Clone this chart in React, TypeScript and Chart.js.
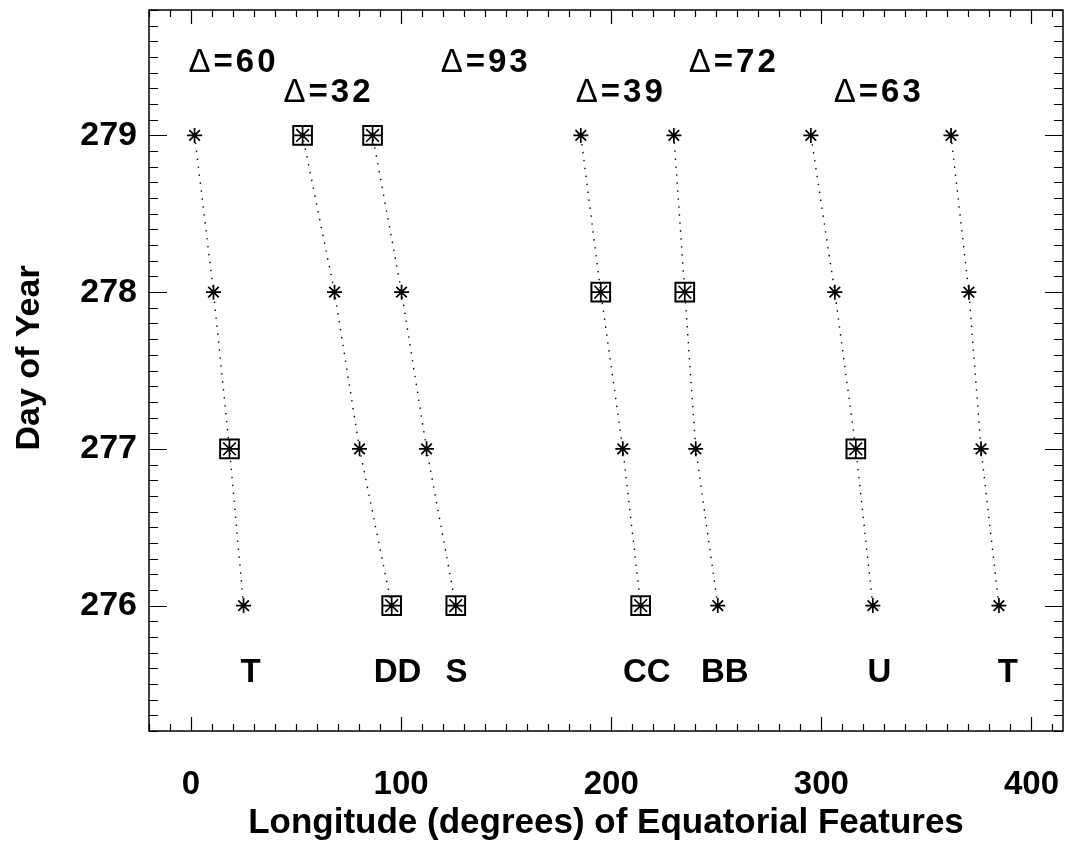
import React, { useEffect, useRef } from "react";
import { Chart, registerables } from "chart.js";

Chart.register(...registerables);

// ---- Data ----
const days = [276, 277, 278, 279];

const featureNames = ["T", "DD", "S", "CC", "BB", "U", "T"];
const lonT1 = [25, 18.3, 10.7, 1.7];
const lonDD = [95.5, 80.2, 68.3, 53.1];
const lonS = [126, 112.1, 100.2, 86.4];
const lonCC = [214, 205.5, 195, 185.5];
const lonBB = [250.7, 240.2, 235, 229.8];
const lonU = [324.5, 316.4, 306.4, 295];
const lonT2 = [384.5, 376, 370.2, 361.7];
const featureLons = [lonT1, lonDD, lonS, lonCC, lonBB, lonU, lonT2];

// days on which each feature's point is marked with a box
const boxedT1 = [277];
const boxedDD = [276, 279];
const boxedS = [276, 279];
const boxedCC = [276, 278];
const boxedBB = [278];
const boxedU = [277];
const boxedT2: number[] = [];
const featureBoxed = [boxedT1, boxedDD, boxedS, boxedCC, boxedBB, boxedU, boxedT2];

// annotations
const deltaValues = ["60", "32", "93", "39", "72", "63"];
const deltaLon = [-1.2, 44, 118.8, 183.1, 236.9, 305.9];
const deltaDay = [279.46, 279.27, 279.46, 279.27, 279.46, 279.27];
const featureLabelLon = [28.3, 98.3, 126.4, 216.9, 254, 327.6, 388.7];
const featureLabelDay = 275.57;

// axes
const xMin = -20;
const xMax = 415;
const yMin = 275.2;
const yMax = 279.8;
const xTitle = "Longitude (degrees) of Equatorial Features";
const yTitle = "Day of Year";
const yTitleDay = 277.58; // vertical centre of the y-axis title, in days

const FONT = "'Liberation Sans', Arial, Helvetica, sans-serif";

const frameTicksPlugin = {
  id: "frameTicks",
  afterDatasetsDraw(chart: any) {
    const { ctx, chartArea: a, scales } = chart;
    const x = scales.x;
    const y = scales.y;
    ctx.save();
    ctx.strokeStyle = "#000";
    ctx.lineWidth = 1.5;
    ctx.strokeRect(a.left, a.top, a.right - a.left, a.bottom - a.top);
    ctx.beginPath();
    for (let i = Math.ceil(xMin / 10); i * 10 <= xMax; i++) {
      const v = i * 10;
      const px = Math.round(x.getPixelForValue(v)) + 0.5;
      const len = v % 100 === 0 ? 14 : 7;
      ctx.moveTo(px, a.bottom);
      ctx.lineTo(px, a.bottom - len);
      ctx.moveTo(px, a.top);
      ctx.lineTo(px, a.top + len);
    }
    for (let i = Math.ceil(yMin * 10 - 1e-6); i <= Math.floor(yMax * 10 + 1e-6); i++) {
      const v = i / 10;
      const py = Math.round(y.getPixelForValue(v)) + 0.5;
      const len = i % 10 === 0 ? 18 : 9;
      ctx.moveTo(a.left, py);
      ctx.lineTo(a.left + len, py);
      ctx.moveTo(a.right, py);
      ctx.lineTo(a.right - len, py);
    }
    ctx.lineWidth = 1.2;
    ctx.stroke();

    ctx.fillStyle = "#000";
    ctx.textBaseline = "middle";
    ctx.textAlign = "left";
    for (let k = 0; k < deltaValues.length; k++) {
      const px = x.getPixelForValue(deltaLon[k]);
      const py = y.getPixelForValue(deltaDay[k]);
      ctx.font = `normal 33px ${FONT}`;
      (ctx as any).letterSpacing = "0px";
      ctx.fillText("Δ", px, py);
      const w = ctx.measureText("Δ").width;
      ctx.font = `bold 33px ${FONT}`;
      (ctx as any).letterSpacing = "3px";
      ctx.fillText("=" + deltaValues[k], px + w + 3, py);
    }
    (ctx as any).letterSpacing = "0px";
    ctx.textAlign = "center";
    ctx.font = `bold 33px ${FONT}`;
    for (let k = 0; k < featureNames.length; k++) {
      const px = x.getPixelForValue(featureLabelLon[k]);
      const py = y.getPixelForValue(featureLabelDay);
      ctx.fillText(featureNames[k], px, py);
    }

    // y-axis title
    ctx.font = `bold 34px ${FONT}`;
    ctx.translate(y.left + 30, y.getPixelForValue(yTitleDay));
    ctx.rotate(-Math.PI / 2);
    ctx.fillText(yTitle, 0, 0);
    ctx.restore();
  },
};

const zeroPad = (s: any) => {
  s.paddingTop = 0;
  s.paddingBottom = 0;
  s.paddingLeft = 0;
  s.paddingRight = 0;
};

export default function App() {
  const canvasRef = useRef<HTMLCanvasElement | null>(null);

  useEffect(() => {
    if (!canvasRef.current) return;
    const lineSets = featureLons.map((lons, fi) => ({
      label: featureNames[fi],
      data: lons.map((lon, di) => ({ x: lon, y: days[di] })),
      showLine: true,
      borderColor: "#000",
      borderWidth: 1.4,
      borderDash: [1.4, 6.6],
      pointStyle: "star",
      pointRadius: (c: any) =>
        featureBoxed[fi].includes(days[c.dataIndex]) ? 9 : 7.5,
      pointBorderWidth: 1.7,
      pointBorderColor: "#000",
      pointBackgroundColor: "#000",
      order: 2,
    }));
    const boxData: { x: number; y: number }[] = [];
    featureBoxed.forEach((bd, fi) => {
      bd.forEach((d) => {
        const di = days.indexOf(d);
        boxData.push({ x: featureLons[fi][di], y: d });
      });
    });
    const boxSet = {
      label: "boxed",
      data: boxData,
      showLine: false,
      pointStyle: "rect",
      pointRadius: 13.2,
      pointBorderWidth: 2,
      pointBorderColor: "#000",
      pointBackgroundColor: "rgba(0,0,0,0)",
      order: 1,
    };

    const chart = new Chart(canvasRef.current, {
      type: "scatter",
      data: { datasets: [...lineSets, boxSet] as any },
      options: {
        animation: false,
        responsive: false,
        events: [],
        layout: { autoPadding: false, padding: { top: 10, right: 11, left: 0, bottom: 0 } },
        plugins: {
          legend: { display: false },
          tooltip: { enabled: false },
        },
        scales: {
          x: {
            type: "linear",
            min: xMin,
            max: xMax,
            grid: { display: false, drawTicks: false },
            border: { display: false },
            ticks: {
              stepSize: 100,
              includeBounds: false,
              padding: 34,
              color: "#000",
              font: { family: FONT, size: 33, weight: "bold" },
              maxRotation: 0,
            },
            title: {
              display: true,
              text: xTitle,
              color: "#000",
              font: { family: FONT, size: 35, weight: "bold" },
              padding: { top: 0, bottom: 17 },
            },
            afterFit: (s: any) => {
              s.height = 130;
              zeroPad(s);
            },
          },
          y: {
            type: "linear",
            min: yMin,
            max: yMax,
            grid: { display: false, drawTicks: false },
            border: { display: false },
            ticks: {
              stepSize: 1,
              includeBounds: false,
              padding: 12,
              color: "#000",
              font: { family: FONT, size: 34, weight: "bold" },
            },
            title: { display: false, text: yTitle },
            afterFit: (s: any) => {
              s.width = 149;
              zeroPad(s);
            },
          },
        },
      },
      plugins: [frameTicksPlugin],
    });
    return () => chart.destroy();
  }, []);

  return (
    <div style={{ position: "absolute", left: 0, top: 0, width: 1074, height: 861, background: "#fff" }}>
      <canvas ref={canvasRef} width={1074} height={861} />
    </div>
  );
}
